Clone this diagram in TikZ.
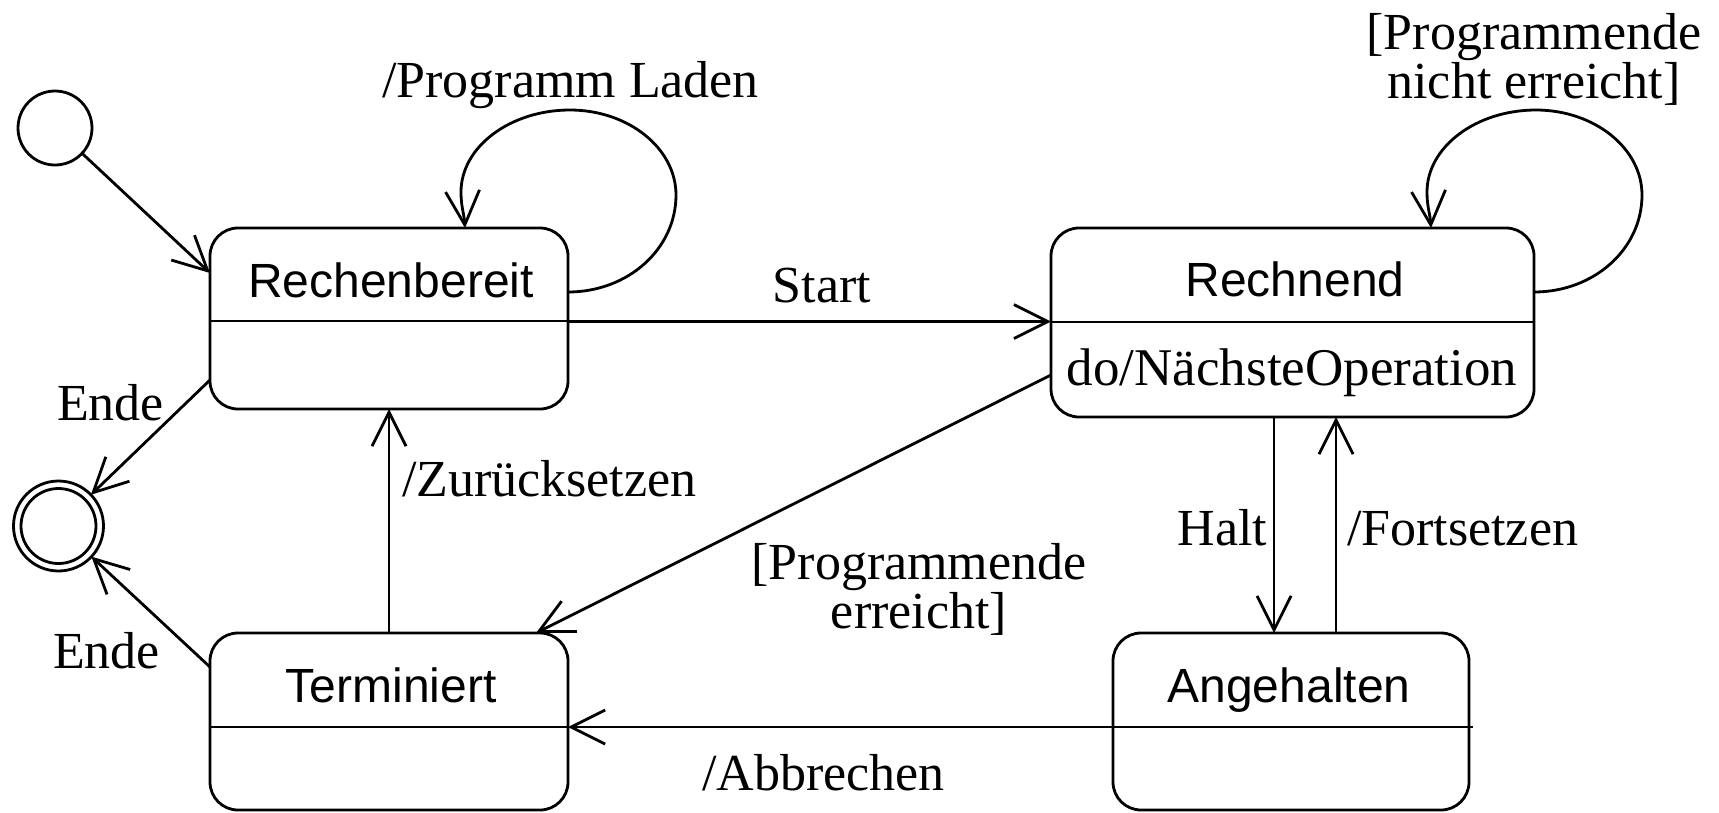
\documentclass[tikz,border=0pt]{standalone}
\usepackage{fontspec}
\setmainfont{Liberation Serif}
\newfontfamily\statefont{Liberation Sans}
\usetikzlibrary{arrows.meta,calc}
\begin{document}
\begin{tikzpicture}[x=1pt,y=-1pt,
  every node/.style={inner sep=0pt, outer sep=0pt},
  lbl/.style={font=\fontsize{52}{52}\selectfont},
  statename/.style={font=\statefont\fontsize{48}{48}\selectfont, anchor=base},
  statebox/.style={draw, line width=2.8pt, rounded corners=28pt},
  pseudo/.style={draw, circle, line width=2.8pt},
  trans/.style={line width=2.8pt, -{Straight Barb[length=34pt,width=34pt]}},
  sep/.style={line width=2.8pt}
]
\useasboundingbox (0,0) rectangle (1719,812);

% states
\node[statebox, minimum width=358pt, minimum height=181pt] (rb) at (389,318.5) {};
\node[statebox, minimum width=483pt, minimum height=189pt] (rn) at (1292.5,322.5) {};
\node[statebox, minimum width=358pt, minimum height=177pt] (tm) at (389,721.5) {};
\node[statebox, minimum width=356pt, minimum height=177pt] (ah) at (1291,721.5) {};

% compartment separators
\draw[sep] ($(rb.north west)+(0,93)$) -- ($(rb.north east)+(0,93)$);
\draw[sep] ($(rn.north west)+(0,94)$) -- ($(rn.north east)+(0,94)$);
\draw[sep] ($(tm.north west)+(0,94)$) -- ($(tm.north east)+(0,94)$);
\draw[sep] ($(ah.north west)+(0,94)$) -- ($(ah.north east)+(0,94)$);

% state names and activities
\node[statename] (rbname) at (391,297) {Rechenbereit};
\node[statename] (rnname) at (1295,296) {Rechnend};
\node[lbl, anchor=base, font=\fontsize{53}{53}\selectfont] (rndo) at (1292,385) {do/NächsteOperation};
\node[statename] (tmname) at (391,702) {Terminiert};
\node[statename] (ahname) at (1289,702) {Angehalten};

% initial and final pseudostates
\node[pseudo, minimum size=74pt] (init) at (55,128) {};
\node[pseudo, minimum size=90pt] (fin) at (58.5,526) {};
\node[pseudo, minimum size=75pt] (finin) at (58.5,526) {};

% transitions
\draw[trans] (init) -- ($(rb.north west)+(0,45)$);
\draw[trans] ($(rb.south west)+(0,-29)$) -- (fin);
\draw[trans] ($(tm.north west)+(0,34)$) -- (fin);
\draw[trans] ($(rb.north east)+(0,93.5)$) -- ($(rn.north west)+(0,93.5)$);
\draw[trans] ($(rn.north west)+(0,147)$) -- ($(tm.north east)+(-32,0)$);
\draw[trans] (tm.north) -- (rb.south);
\draw[trans] ($(rn.south west)+(223,0)$) -- ($(ah.north west)+(161,0)$);
\draw[trans] ($(ah.north west)+(223,0)$) -- ($(rn.south west)+(285,0)$);
\draw[trans] ($(ah.north east)+(4,94)$) -- ($(tm.north east)+(0,94)$);

% self transitions
\draw[trans, shift={(rb.north east)}]
  (0,64) .. controls +(60,0) and +(0,54) .. (108,-33)
         .. controls +(0,-47) and +(58,0) .. (2,-118)
         .. controls +(-60,0) and +(0,-45) .. (-107,-36)
         .. controls +(0,15) and +(-1,-15) .. (-103,0);
\draw[trans, shift={(rn.north east)}]
  (0,64) .. controls +(60,0) and +(0,54) .. (108,-33)
         .. controls +(0,-47) and +(58,0) .. (2,-118)
         .. controls +(-60,0) and +(0,-45) .. (-107,-36)
         .. controls +(0,15) and +(-1,-15) .. (-103,0);

% transition labels
\node[lbl, anchor=base west] (lload) at (382,97) {/Programm Laden};
\node[lbl, anchor=base] (lstart) at (822,302) {Start};
\node[lbl, anchor=base west] (lende1) at (57,420) {Ende};
\node[lbl, anchor=base west] (lende2) at (53,668) {Ende};
\node[lbl, anchor=base west] (lreset) at (402,496) {/Zurücksetzen};
\node[lbl, anchor=base east] (lhalt) at (1267,545) {Halt};
\node[lbl, anchor=base west] (lcont) at (1347,545) {/Fortsetzen};
\node[lbl, anchor=base west] (labort) at (702,790) {/Abbrechen};
\node[lbl, anchor=base] (lenda) at (919,579) {[Programmende};
\node[lbl, anchor=base] (lendb) at (919,628) {erreicht]};
\node[lbl, anchor=base] (lnota) at (1534,49) {[Programmende};
\node[lbl, anchor=base] (lnotb) at (1534,98) {nicht erreicht]};
\end{tikzpicture}
\end{document}
